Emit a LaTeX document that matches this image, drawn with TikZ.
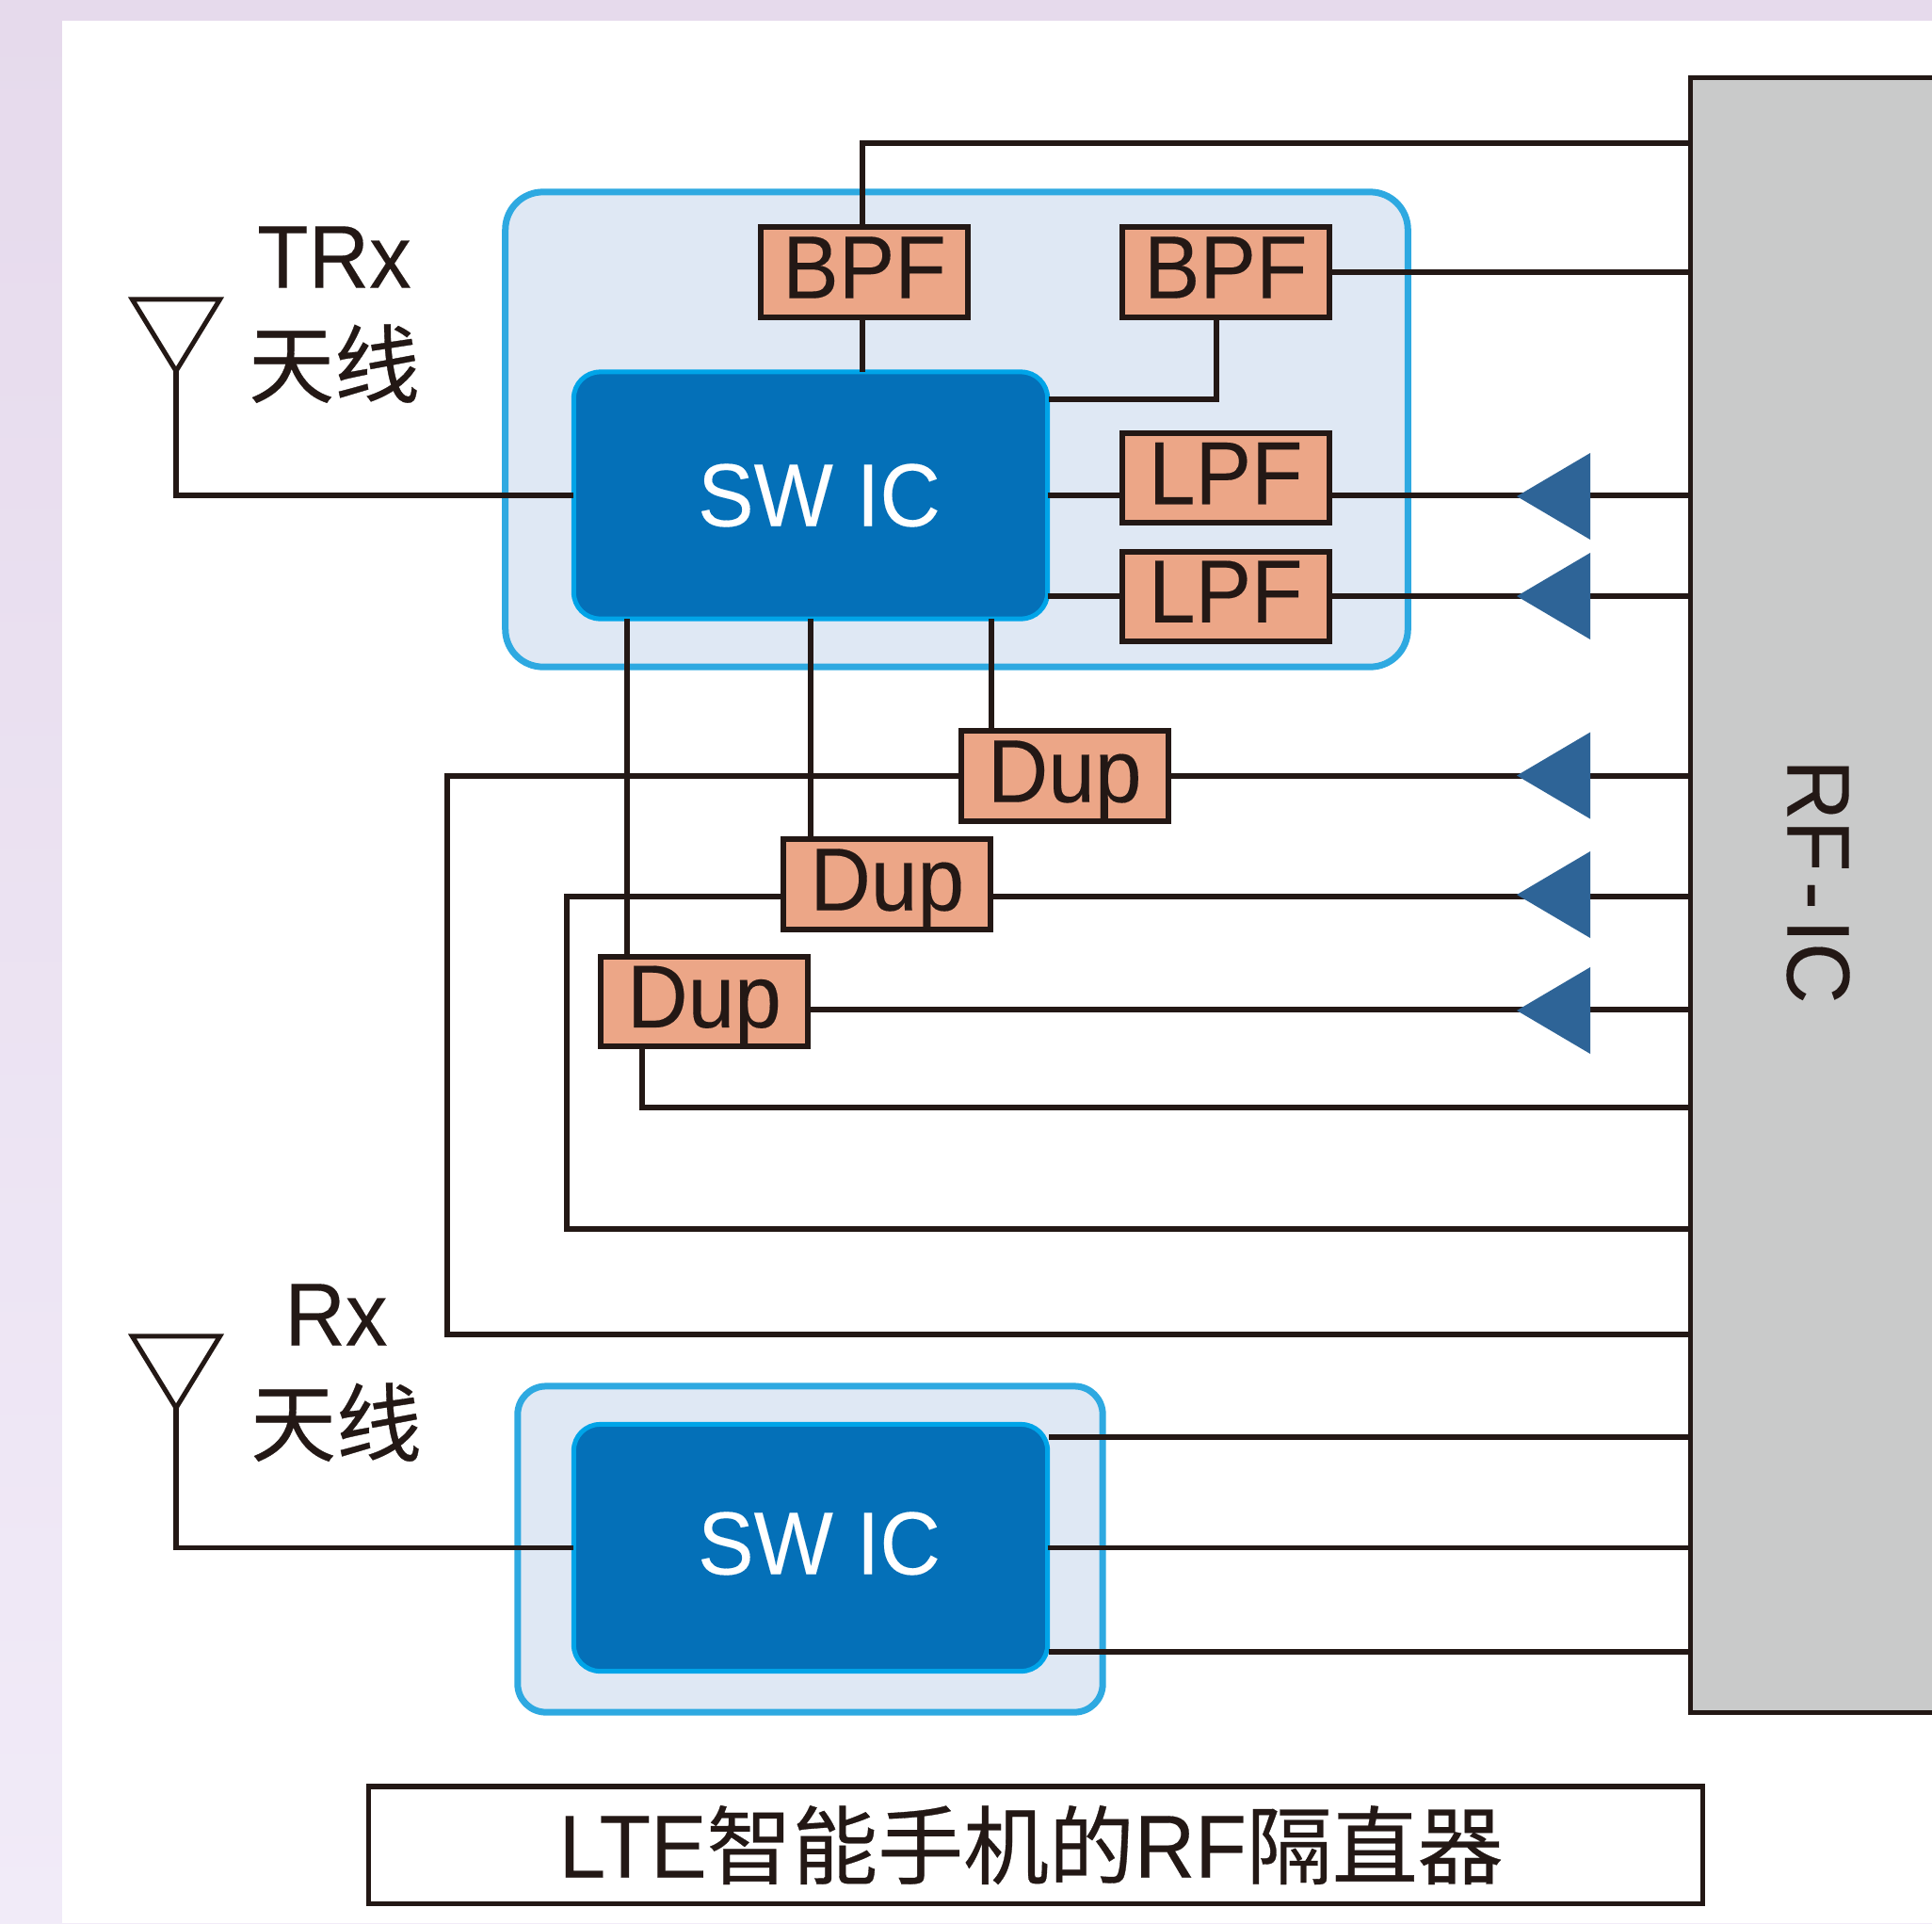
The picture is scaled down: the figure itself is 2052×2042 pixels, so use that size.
\documentclass[tikz,border=0pt]{standalone}
\usepackage{fontspec}
\setmainfont{Liberation Sans}[FakeStretch=0.94,FakeBold=0.15]
\newfontfamily\cjk{Noto Sans CJK SC}[FakeBold=0.35,Scale=0.957]
\usepackage{tikz}
\usetikzlibrary{shapes.geometric}
\usetikzlibrary{positioning,calc}
\definecolor{wire}{RGB}{35, 24, 21}
\definecolor{filterfill}{RGB}{236, 166, 135}
\definecolor{modfill}{RGB}{223, 232, 244}
\definecolor{modline}{RGB}{46, 169, 225}
\definecolor{swfill}{RGB}{4, 112, 184}
\definecolor{swline}{RGB}{0, 164, 232}
\definecolor{rfgrey}{RGB}{201, 202, 202}
\definecolor{ampblue}{RGB}{46, 100, 151}
\definecolor{bgtop}{RGB}{230, 218, 236}
\definecolor{bgbottom}{RGB}{241, 235, 248}

\begin{document}
\begin{tikzpicture}[x=0.01cm, y=-0.01cm,
every node/.style ={font=\fontsize{27}{30}\selectfont, text=wire, outer sep=0pt},
filter/.style ={rectangle, draw=wire, line width=0.06cm, fill=filterfill, text centered, text depth=0.1cm, minimum width=2.2cm, minimum height=0.95cm, inner sep=0pt},
module/.style ={rectangle, draw=modline, line width=0.07cm, fill=modfill},
swic/.style ={rectangle, draw=swline, line width=0.05cm, rounded corners=0.28cm, fill=swfill, text=white, minimum width=5.03cm, minimum height=2.62cm},
amp/.style ={isosceles triangle, isosceles triangle stretches, shape border rotate=180, fill=ampblue, minimum width=0.92cm, minimum height=0.78cm, inner sep=0pt},
antenna/.style ={isosceles triangle, isosceles triangle stretches, shape border rotate=270, draw=wire, line width=0.05cm, fill=white, minimum width=0.93cm, minimum height=0.76cm, inner sep=0pt},
connection/.style ={-,draw=wire,line width=0.055cm},
]

\clip (0,0) rectangle (2052,2042);
\shade[top color=bgtop, bottom color=bgbottom] (0,0) rectangle (2052,2042);
\fill[white] (66,22) rectangle (2052,2042);

\node (RFIC) [rectangle, draw=wire, line width=0.055cm, fill=rfgrey, minimum width=2.71cm, minimum height=17.35cm] at (1931,950.5) {\rotatebox{-90}{RF\kern3pt-\kern3pt IC\hspace*{0.29cm}}};

\node (TRXMOD) [module, rounded corners=0.4cm, minimum width=9.58cm, minimum height=5.04cm] at (1016,456) {};
\node (RXMOD) [module, rounded corners=0.3cm, minimum width=6.21cm, minimum height=3.46cm] at (860.5,1645) {};

\node (SWTRX) [swic] at (861,526) {\hspace*{0.18cm}SW IC};
\node (SWRX) [swic, text depth=0.1cm] at (861,1643.5) {\hspace*{0.18cm}SW IC};

\node (BPFA) [filter] at (918,289) {BPF};
\node (BPFB) [filter, right of=BPFA, node distance=3.835cm] {BPF};
\node (LPFA) [filter, below of=BPFB, node distance=2.185cm] {LPF};
\node (LPFB) [filter, below of=LPFA, node distance=1.255cm] {LPF};

\node (DUPA) [filter] at (1130.7,824) {Dup};
\node (DUPB) [filter] at (942.3,939) {Dup};
\node (DUPC) [filter] at (748,1063.3) {Dup};

\node (ANTTRX) [antenna, anchor=apex] at (187,394) {};
\node (ANTRX) [antenna, anchor=apex] at (187,1495) {};

\node (TRXTXT) at (355,273) {TRx};
\node (TRXANT) [below of=TRXTXT, node distance=1.13cm] {\cjk 天线};
\node (RXTXT) at (357,1396) {Rx};
\node (RXANT) [below of=RXTXT, node distance=1.14cm] {\cjk 天线};

\node (TITLE) [rectangle, draw=wire, line width=0.05cm, minimum width=14.16cm, minimum height=1.24cm] at (1100,1959) {LTE{\cjk 智能手机的}RF{\cjk 隔直器}\hspace*{0.1cm}};

% where wires leave a box away from its middle
\coordinate (BPFTOP) at (916,152);
\coordinate (BPFLOW) at (1292,339);
\coordinate (SWTAP) at (1114,424);
\coordinate (TAPA) at (1053,775);
\coordinate (TAPB) at (861,890);
\coordinate (TAPC) at (666,1014);
\coordinate (DUPBOUT) at (1053,952);
\coordinate (DUPCOUT) at (860,1072);
\coordinate (LOOPA) at (475,1417);
\coordinate (LOOPB) at (602,1305);
\coordinate (LOOPC) at (682,1176);
\coordinate (SWRXUP) at (1114,1526);
\coordinate (SWRXLOW) at (1114,1754);

% BPF side
\draw[connection] (BPFA.north -| BPFTOP) -- (BPFTOP) -- (BPFTOP -| RFIC.west);
\draw[connection] (BPFA.south -| BPFTOP) -- (SWTRX.north -| BPFTOP);
\draw[connection] (BPFB.east) -- (BPFB.east -| RFIC.west);
\draw[connection] (BPFLOW) |- (SWTAP);

% LPF side
\draw[connection] (SWTRX.east) -- (SWTRX.east -| LPFA.west);
\draw[connection] (LPFB.west -| SWTRX.east) -- (LPFB.west);
\draw[connection] (SWTRX.east -| LPFA.east) -- (SWTRX.east -| RFIC.west);
\draw[connection] (LPFB.east) -- (LPFB.east -| RFIC.west);

% duplexers
\draw[connection] (TAPA |- SWTRX.south) -- (TAPA);
\draw[connection] (TAPB |- SWTRX.south) -- (TAPB);
\draw[connection] (TAPC |- SWTRX.south) -- (TAPC);
\draw[connection] (DUPA.east) -- (DUPA.east -| RFIC.west);
\draw[connection] (DUPBOUT) -- (DUPBOUT -| RFIC.west);
\draw[connection] (DUPCOUT) -- (DUPCOUT -| RFIC.west);
\draw[connection] (DUPA.west) -| (LOOPA) -- (LOOPA -| RFIC.west);
\draw[connection] (DUPBOUT -| DUPB.west) -| (LOOPB) -- (LOOPB -| RFIC.west);
\draw[connection] (LOOPC |- DUPC.south) -- (LOOPC) -- (LOOPC -| RFIC.west);

% antennas
\draw[connection] (ANTTRX.apex) |- (SWTRX.west);
\draw[connection] (ANTRX.apex) |- (SWRX.west);

% Rx switch
\draw[connection] (SWRXUP) -- (SWRXUP -| RFIC.west);
\draw[connection] (SWRX.east) -- (SWRX.east -| RFIC.west);
\draw[connection] (SWRXLOW) -- (SWRXLOW -| RFIC.west);

\node (AMPA) [amp, anchor=apex] at (1611,527) {};
\node (AMPB) [amp, anchor=apex] at (1611,633) {};
\node (AMPC) [amp, anchor=apex] at (1611,823.5) {};
\node (AMPD) [amp, anchor=apex] at (1611,950) {};
\node (AMPE) [amp, anchor=apex] at (1611,1073) {};

\end{tikzpicture}
\end{document}
